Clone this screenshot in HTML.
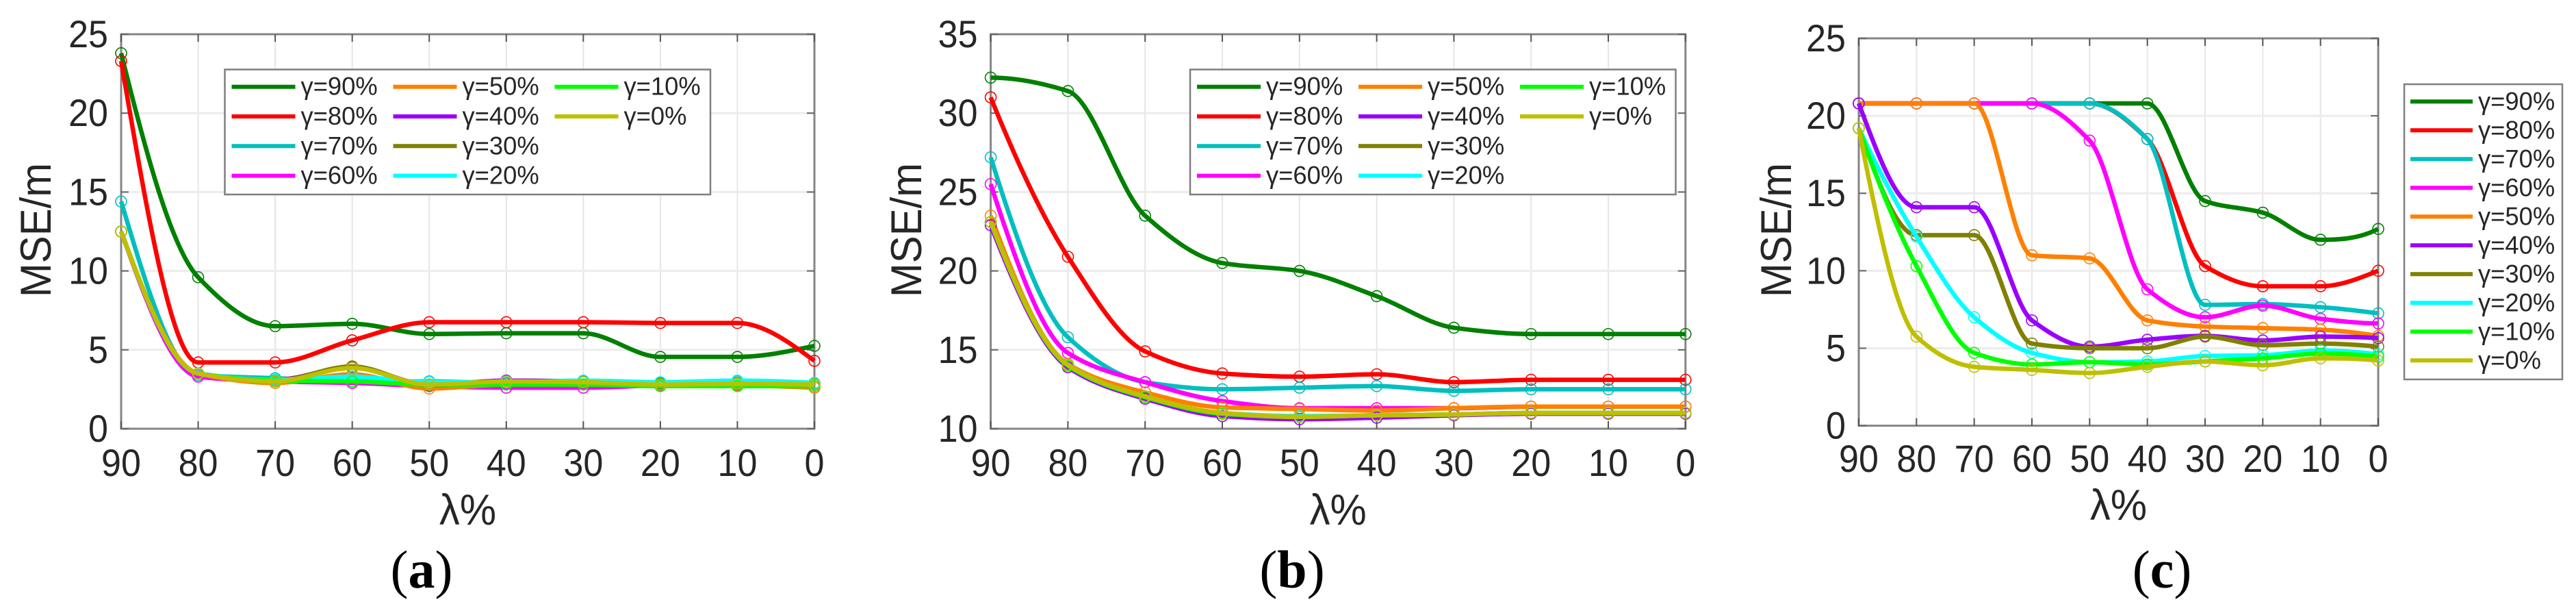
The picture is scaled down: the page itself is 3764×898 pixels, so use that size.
<!DOCTYPE html>
<html lang="en">
<head>
<meta charset="utf-8">
<title>MSE vs lambda charts</title>
<style>
html,body{margin:0;padding:0;background:#fff;width:3764px;height:898px;overflow:hidden}
svg{display:block;font-family:"Liberation Sans",sans-serif}
</style>
</head>
<body>
<svg id="figure" xmlns="http://www.w3.org/2000/svg" width="3764" height="898" viewBox="0 0 3764 898"></svg>
<script>
const categories = [90, 80, 70, 60, 50, 40, 30, 20, 10, 0];
const seriesNames = ['γ=90%', 'γ=80%', 'γ=70%', 'γ=60%', 'γ=50%', 'γ=40%', 'γ=30%', 'γ=20%', 'γ=10%', 'γ=0%'];
const seriesColors = ['#008000', '#ff0000', '#00bfbf', '#ff00ff', '#ff8000', '#9a00ff', '#808000', '#00ffff', '#00ff00', '#bfbf00'];

const ticksA = [0, 5, 10, 15, 20, 25];
const a90 = [23.8, 9.6, 6.5, 6.65, 6.0, 6.05, 6.05, 4.55, 4.55, 5.25];
const a80 = [23.3, 4.2, 4.2, 5.6, 6.75, 6.75, 6.75, 6.7, 6.7, 4.3];
const a70 = [14.4, 3.4, 3.2, 3.0, 3.0, 2.9, 3.0, 2.9, 3.0, 2.9];
const a60 = [12.5, 3.3, 3.0, 2.9, 2.7, 2.6, 2.6, 2.75, 2.8, 2.8];
const a50 = [12.5, 3.5, 2.9, 3.45, 2.55, 2.8, 2.8, 2.8, 2.75, 2.6];
const a40 = [12.5, 3.5, 3.1, 3.9, 2.8, 3.05, 3.0, 2.85, 2.9, 2.9];
const a30 = [12.5, 3.5, 3.05, 3.95, 2.75, 3.0, 3.0, 2.85, 2.9, 2.85];
const a20 = [12.5, 3.5, 3.1, 3.3, 2.95, 2.95, 3.05, 2.95, 3.05, 2.9];
const a10 = [12.5, 3.5, 3.05, 3.0, 2.8, 2.8, 2.8, 2.7, 2.7, 2.7];
const a0 = [12.5, 3.5, 3.0, 3.85, 2.8, 3.0, 2.95, 2.8, 2.85, 2.8];

const ticksB = [10, 15, 20, 25, 30, 35];
const b90 = [32.25, 31.4, 23.5, 20.5, 20.0, 18.4, 16.4, 16.0, 16.0, 16.0];
const b80 = [31.0, 20.9, 14.9, 13.5, 13.3, 13.45, 12.95, 13.1, 13.1, 13.1];
const b70 = [27.2, 15.8, 12.95, 12.5, 12.6, 12.7, 12.4, 12.5, 12.5, 12.5];
const b60 = [25.5, 14.8, 12.95, 11.75, 11.3, 11.3, 11.3, 11.4, 11.4, 11.4];
const b50 = [23.5, 14.1, 12.3, 11.35, 11.25, 11.15, 11.3, 11.4, 11.4, 11.4];
const b40 = [22.9, 13.9, 11.9, 10.8, 10.6, 10.7, 10.85, 10.95, 10.95, 10.95];
const b30 = [23.1, 14.0, 12.0, 10.95, 10.75, 10.85, 10.9, 11.0, 11.0, 11.0];
const b20 = [23.1, 14.05, 12.05, 11.0, 10.8, 10.85, 10.9, 11.0, 11.0, 11.0];
const b10 = [23.1, 14.0, 12.0, 10.95, 10.75, 10.85, 10.9, 11.0, 11.0, 11.0];
const b0 = [23.1, 14.05, 12.05, 11.0, 10.75, 10.85, 10.9, 11.0, 11.0, 11.0];

const ticksC = [0, 5, 10, 15, 20, 25];
const c90 = [20.8, 20.8, 20.8, 20.8, 20.8, 20.8, 14.5, 13.75, 12.0, 12.7];
const c80 = [20.8, 20.8, 20.8, 20.8, 20.8, 18.5, 10.3, 9.0, 9.0, 10.0];
const c70 = [20.8, 20.8, 20.8, 20.8, 20.8, 18.5, 7.8, 7.85, 7.65, 7.25];
const c60 = [20.8, 20.8, 20.8, 20.8, 18.4, 8.8, 7.0, 7.75, 6.9, 6.6];
const c50 = [20.8, 20.8, 20.8, 11.0, 10.8, 6.8, 6.4, 6.3, 6.2, 5.8];
const c40 = [20.8, 14.1, 14.1, 6.8, 5.1, 5.55, 5.8, 5.5, 5.75, 5.65];
const c30 = [19.2, 12.3, 12.3, 5.3, 5.0, 5.0, 5.75, 5.2, 5.3, 5.1];
const c20 = [19.2, 12.2, 7.0, 4.7, 4.1, 4.15, 4.5, 4.55, 4.85, 4.6];
const c10 = [19.2, 10.3, 4.7, 3.95, 4.1, 3.95, 4.15, 4.35, 4.65, 4.45];
const c0 = [19.2, 5.75, 3.8, 3.6, 3.4, 3.8, 4.15, 3.9, 4.35, 4.2];

const NS = 'http://www.w3.org/2000/svg';
const root = document.getElementById('figure');
const TEXT = '#262626';

function make(tag, parent, attrs, content) {
  const el = document.createElementNS(NS, tag);
  for (const k in attrs) el.setAttribute(k, attrs[k]);
  if (content !== undefined) el.textContent = content;
  parent.appendChild(el);
  return el;
}

/* PCHIP tangents so the curve stays monotone between the knots */
function tangents(xs, ys) {
  const n = xs.length, h = [], d = [], m = new Array(n).fill(0);
  for (let i = 0; i < n - 1; i++) { h.push(xs[i + 1] - xs[i]); d.push((ys[i + 1] - ys[i]) / h[i]); }
  for (let i = 1; i < n - 1; i++) {
    if (d[i - 1] * d[i] > 0) {
      const w1 = 2 * h[i] + h[i - 1], w2 = h[i] + 2 * h[i - 1];
      m[i] = (w1 + w2) / (w1 / d[i - 1] + w2 / d[i]);
    }
  }
  const end = (h0, h1, d0, d1) => {
    let v = ((2 * h0 + h1) * d0 - h0 * d1) / (h0 + h1);
    if (v * d0 <= 0) v = 0;
    else if (d0 * d1 <= 0 && Math.abs(v) > 3 * Math.abs(d0)) v = 3 * d0;
    return v;
  };
  m[0] = end(h[0], h[1], d[0], d[1]);
  m[n - 1] = end(h[n - 2], h[n - 3], d[n - 2], d[n - 3]);
  return { h, m };
}

function curvePath(xs, ys) {
  const { h, m } = tangents(xs, ys);
  let p = 'M' + xs[0].toFixed(2) + ' ' + ys[0].toFixed(2);
  for (let i = 0; i < xs.length - 1; i++) {
    const c = h[i] / 3;
    p += ' C' + (xs[i] + c).toFixed(2) + ' ' + (ys[i] + m[i] * c).toFixed(2) + ' ' +
      (xs[i + 1] - c).toFixed(2) + ' ' + (ys[i + 1] - m[i + 1] * c).toFixed(2) + ' ' +
      xs[i + 1].toFixed(2) + ' ' + ys[i + 1].toFixed(2);
  }
  return p;
}

function place(x, y, sx) {
  return 'translate(' + x + ' ' + y + ') scale(' + sx + ' 1)';
}

function drawPanel(cfg) {
  const g = make('g', root, {});
  
  

  const xScale = (i) => cfg.left + (cfg.right - cfg.left) * i / (categories.length - 1);
  const yMin = cfg.ticks[0], yMax = cfg.ticks[cfg.ticks.length - 1];
  const yScale = (v) => cfg.bottom - (cfg.bottom - cfg.top) * (v - yMin) / (yMax - yMin);

  make('rect', g, { x: cfg.left, y: cfg.top, width: cfg.right - cfg.left, height: cfg.bottom - cfg.top, fill: '#fff' });

  /* grid */
  categories.forEach((c, i) => {
    const line = make('line', g, { x1: xScale(i), x2: xScale(i), y1: cfg.top, y2: cfg.bottom, stroke: '#e6e6e6', 'stroke-width': 2 });
    
    
  });
  cfg.ticks.forEach((t) => {
    const line = make('line', g, { x1: cfg.left, x2: cfg.right, y1: yScale(t), y2: yScale(t), stroke: '#ececec', 'stroke-width': 3 });
    
    
  });

  /* frame */
  const frame = make('rect', g, { x: cfg.left, y: cfg.top, width: cfg.right - cfg.left, height: cfg.bottom - cfg.top, fill: 'none', stroke: '#858585', 'stroke-width': 3 });
  
  

  /* ticks and labels */
  categories.forEach((c, i) => {
    make('line', g, { x1: xScale(i), x2: xScale(i), y1: cfg.bottom, y2: cfg.bottom - 11, stroke: '#555', 'stroke-width': 2 });
    make('line', g, { x1: xScale(i), x2: xScale(i), y1: cfg.top, y2: cfg.top + 11, stroke: '#555', 'stroke-width': 2 });
    const lab = make('text', g, { transform: place(xScale(i), cfg.xTickY + 19, 0.93), 'text-anchor': 'middle', 'font-size': 56, fill: TEXT }, String(c));
    
    
  });
  cfg.ticks.forEach((t) => {
    make('line', g, { x1: cfg.left, x2: cfg.left + 11, y1: yScale(t), y2: yScale(t), stroke: '#666', 'stroke-width': 2 });
    make('line', g, { x1: cfg.right, x2: cfg.right - 11, y1: yScale(t), y2: yScale(t), stroke: '#666', 'stroke-width': 2 });
    const lab = make('text', g, { transform: place(cfg.left - 19, yScale(t) + 19, 0.93), 'text-anchor': 'end', 'font-size': 56, fill: TEXT }, String(t));
    
    
  });

  /* series */
  const xs = categories.map((c, i) => xScale(i));
  cfg.series.forEach((vals, s) => {
    const sg = make('g', g, {});
    
    
    const ys = vals.map(yScale);
    make('path', sg, { d: curvePath(xs, ys), fill: 'none', stroke: seriesColors[s], 'stroke-width': 6.5, 'stroke-linejoin': 'round' });
    vals.forEach((v, i) => {
      const pt = make('circle', sg, { cx: xs[i], cy: ys[i], r: 8, fill: 'none', stroke: seriesColors[s], 'stroke-width': 1.6 });
      
      
    });
  });

  /* axis titles */
  const yT = make('text', g, { transform: 'translate(' + cfg.yTitleX + ' 336) rotate(-90) scale(0.95 1)', 'text-anchor': 'middle', 'font-size': 63, fill: TEXT }, 'MSE/m');
  
  
  const xT = make('text', g, { transform: place((cfg.left + cfg.right) / 2, cfg.xTitleY + 21, 0.95), 'text-anchor': 'middle', 'font-size': 63, fill: TEXT }, 'λ%');
  
  

  /* legend */
  const lg = make('g', g, {});
  
  
  const L = cfg.legend;
  make('rect', lg, { x: L.x, y: L.y, width: L.w, height: L.h, fill: '#fff', stroke: '#7f7f7f', 'stroke-width': 2.5 });
  seriesNames.forEach((name, s) => {
    const col = Math.floor(s / L.rows), row = s % L.rows;
    const ex = L.x + L.pad + col * L.colStep;
    const ey = L.firstRow + row * L.rowStep;
    const en = make('g', lg, {});
    
    
    make('line', en, { x1: ex, x2: ex + L.handle, y1: ey, y2: ey, stroke: seriesColors[s], 'stroke-width': 6 });
    make('text', en, { transform: place(ex + L.handle + 8, ey + 12, 0.97), 'font-size': 37.5, fill: TEXT }, name);
  });

  /* panel caption */
  const cap = make('text', g, { x: cfg.capX, y: 858, 'text-anchor': 'middle', 'font-family': '"Liberation Serif", serif', 'font-size': 78, fill: '#000' });
  
  
  make('tspan', cap, {}, '(');
  make('tspan', cap, { 'font-weight': 'bold' }, cfg.id);
  make('tspan', cap, {}, ')');
}

drawPanel({
  id: 'a', left: 177, right: 1190, top: 50, bottom: 626, ticks: ticksA,
  series: [a90, a80, a70, a60, a50, a40, a30, a20, a10, a0],
  xTickY: 676, xTitleY: 745, yTitleX: 74, capX: 616,
  legend: { x: 328.5, y: 101.5, w: 709.5, h: 182.5, pad: 10, rows: 4, colStep: 236, rowStep: 43.3, firstRow: 126.7, handle: 93 }
});
drawPanel({
  id: 'b', left: 1447.6, right: 2462.8, top: 50, bottom: 626, ticks: ticksB,
  series: [b90, b80, b70, b60, b50, b40, b30, b20, b10, b0],
  xTickY: 676, xTitleY: 745, yTitleX: 1346, capX: 1888,
  legend: { x: 1739, y: 101.5, w: 709.5, h: 182.5, pad: 10, rows: 4, colStep: 236, rowStep: 43.3, firstRow: 126.7, handle: 93 }
});
drawPanel({
  id: 'c', left: 2716, right: 3475, top: 56, bottom: 621.6, ticks: ticksC,
  series: [c90, c80, c70, c60, c50, c40, c30, c20, c10, c0],
  xTickY: 670, xTitleY: 738, yTitleX: 2617, capX: 3159,
  legend: { x: 3513, y: 123, w: 231, h: 431, pad: 9, rows: 10, colStep: 0, rowStep: 42, firstRow: 148.3, handle: 91 }
});
</script>
</body>
</html>
